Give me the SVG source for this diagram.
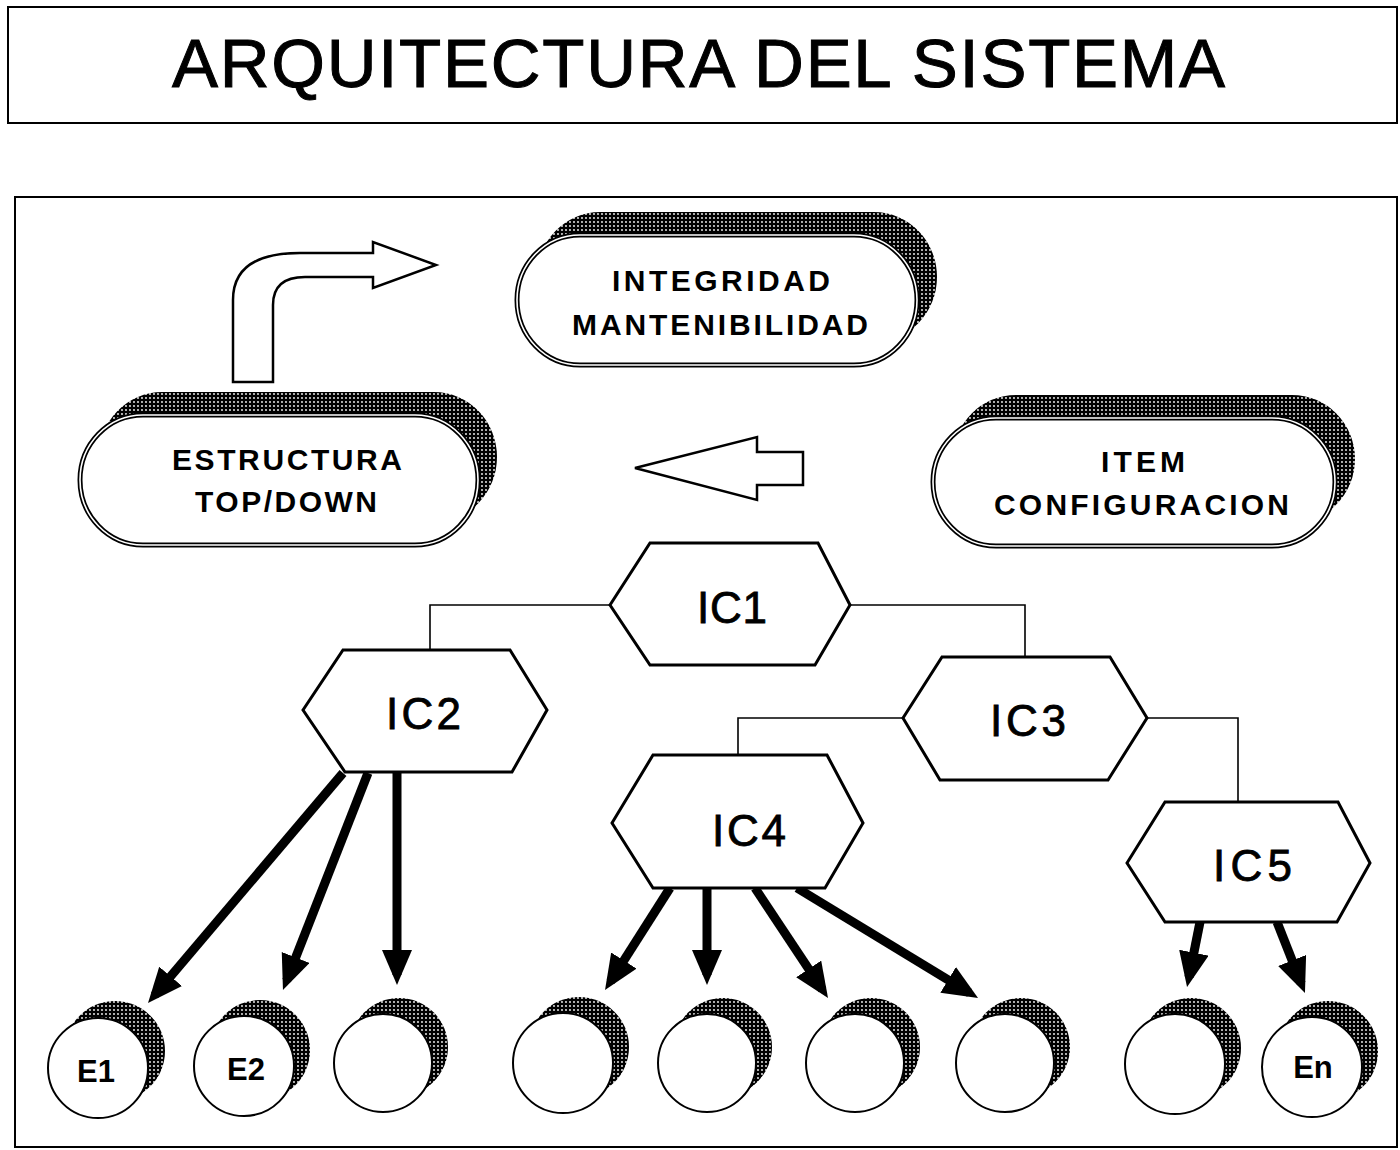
<svg xmlns="http://www.w3.org/2000/svg" width="1400" height="1150" viewBox="0 0 1400 1150">
<style>
.frame{fill:none;stroke:#000;stroke-width:2}
.pill{fill:#fff;stroke:#000;stroke-width:5}
.pillin{fill:none;stroke:#fff;stroke-width:1.6}
.shadow{fill:url(#dots)}
.hex{fill:#fff;stroke:#000;stroke-width:3;stroke-linejoin:miter}
.conn{fill:none;stroke:#000;stroke-width:1.6}
.arr{fill:none;stroke:#000;stroke-width:9;marker-end:url(#head)}
.circ{fill:#fff;stroke:#000;stroke-width:2}
.big{fill:#fff;stroke:#000;stroke-width:2.5;stroke-linejoin:miter}
.title{font-family:"Liberation Sans",Arial,sans-serif;font-size:69px;fill:#000;stroke:#000;stroke-width:1}
.pt{font-family:"Liberation Sans",Arial,sans-serif;font-size:30px;font-weight:bold;fill:#000}
.ic{font-family:"Liberation Sans",Arial,sans-serif;font-size:44px;fill:#000;stroke:#000;stroke-width:0.8}
.et{font-family:"Liberation Sans",Arial,sans-serif;font-size:31px;font-weight:bold;fill:#000;text-anchor:middle}
</style>
<defs>
<pattern id="dots" width="4" height="4" patternUnits="userSpaceOnUse">
<rect width="4" height="4" fill="#000"/>
<circle cx="2" cy="2" r="0.9" fill="#fff"/>
</pattern>
<marker id="head" markerUnits="userSpaceOnUse" markerWidth="36" markerHeight="32" refX="25" refY="15" orient="auto">
<path d="M0,0 L35,15 L0,30 Z" fill="#000"/>
</marker>
</defs>
<rect width="1400" height="1150" fill="#fff"/>

<g id="title">
<rect class="frame" x="8" y="7" width="1389" height="116"/>
<text class="title" x="172" y="87" textLength="1053" lengthAdjust="spacing">ARQUITECTURA DEL SISTEMA</text>
</g>

<g id="main-frame">
<rect class="frame" x="15" y="197" width="1382" height="950"/>
</g>

<g id="bent-arrow">
<path class="big" d="M233 382 L233 300 Q233 253 300 253 L373 253 L373 242 L436 265 L373 288 L373 277 L305 277 Q273 277 273 305 L273 382 Z"/>
</g>

<g id="left-arrow">
<path class="big" d="M635 468 L757 437 L757 452 L803 452 L803 485 L757 485 L757 500 Z"/>
</g>

<g id="integridad">
<rect class="shadow" x="537" y="212" width="400" height="130" rx="63" ry="65"/>
<rect class="pill" x="517" y="235" width="400" height="130" rx="63" ry="65"/>
<rect class="pillin" x="517" y="235" width="400" height="130" rx="63" ry="65"/>
<text class="pt" x="612" y="291" textLength="218" lengthAdjust="spacing">INTEGRIDAD</text>
<text class="pt" x="572" y="335" textLength="296" lengthAdjust="spacing">MANTENIBILIDAD</text>
</g>

<g id="estructura">
<rect class="shadow" x="99" y="392" width="398" height="130" rx="63" ry="65"/>
<rect class="pill" x="80" y="415" width="398" height="130" rx="63" ry="65"/>
<rect class="pillin" x="80" y="415" width="398" height="130" rx="63" ry="65"/>
<text class="pt" x="172" y="470" textLength="230" lengthAdjust="spacing">ESTRUCTURA</text>
<text class="pt" x="195" y="512" textLength="182" lengthAdjust="spacing">TOP/DOWN</text>
</g>

<g id="item">
<rect class="shadow" x="953" y="395" width="402" height="128" rx="63" ry="64"/>
<rect class="pill" x="933" y="418" width="402" height="128" rx="63" ry="64"/>
<rect class="pillin" x="933" y="418" width="402" height="128" rx="63" ry="64"/>
<text class="pt" x="1101" y="472" textLength="84" lengthAdjust="spacing">ITEM</text>
<text class="pt" x="994" y="515" textLength="295" lengthAdjust="spacing">CONFIGURACION</text>
</g>

<g id="connectors">
<polyline class="conn" points="610,605 430,605 430,650"/>
<polyline class="conn" points="850,605 1025,605 1025,657"/>
<polyline class="conn" points="903,718 738,718 738,755"/>
<polyline class="conn" points="1147,718 1238,718 1238,802"/>
<line class="arr" x1="343" y1="773" x2="154.5" y2="995.4"/>
<line class="arr" x1="368" y1="773" x2="286.6" y2="980.7"/>
<line class="arr" x1="397" y1="773" x2="397" y2="975"/>
<line class="arr" x1="670" y1="888" x2="610.4" y2="981.6"/>
<line class="arr" x1="707" y1="888" x2="707" y2="975"/>
<line class="arr" x1="755" y1="888" x2="822.5" y2="989.7"/>
<line class="arr" x1="797" y1="888" x2="969.5" y2="992.8"/>
<line class="arr" x1="1200" y1="922" x2="1189" y2="977.2"/>
<line class="arr" x1="1277" y1="922" x2="1301.3" y2="983.7"/>
</g>

<g id="IC1">
<polygon class="hex" points="610,605 650,543 818,543 850,605 815,665 650,665"/>
<text class="ic" x="697" y="623" textLength="70" lengthAdjust="spacing">IC1</text>
</g>
<g id="IC2">
<polygon class="hex" points="303,710 343,650 510,650 547,710 512,772 345,772"/>
<text class="ic" x="386" y="729" textLength="75" lengthAdjust="spacing">IC2</text>
</g>
<g id="IC3">
<polygon class="hex" points="903,718 942,657 1110,657 1147,718 1108,780 940,780"/>
<text class="ic" x="990" y="736" textLength="76" lengthAdjust="spacing">IC3</text>
</g>
<g id="IC4">
<polygon class="hex" points="612,823 653,755 827,755 863,823 825,888 653,888"/>
<text class="ic" x="712" y="846" textLength="74" lengthAdjust="spacing">IC4</text>
</g>
<g id="IC5">
<polygon class="hex" points="1127,863 1165,802 1338,802 1370,863 1337,922 1165,922"/>
<text class="ic" x="1213" y="881" textLength="79" lengthAdjust="spacing">IC5</text>
</g>

<g id="E1">
<circle class="shadow" cx="115" cy="1051" r="50"/>
<circle class="circ" cx="98" cy="1068" r="50"/>
<text class="et" x="96" y="1082">E1</text>
</g>
<g id="E2">
<circle class="shadow" cx="260" cy="1050" r="50"/>
<circle class="circ" cx="244" cy="1066" r="50"/>
<text class="et" x="246" y="1080">E2</text>
</g>
<g id="E3">
<circle class="shadow" cx="399" cy="1047" r="49"/>
<circle class="circ" cx="383" cy="1063" r="49"/>
</g>
<g id="E4">
<circle class="shadow" cx="579" cy="1047" r="50"/>
<circle class="circ" cx="563" cy="1063" r="50"/>
</g>
<g id="E5">
<circle class="shadow" cx="723" cy="1047" r="49"/>
<circle class="circ" cx="707" cy="1063" r="49"/>
</g>
<g id="E6">
<circle class="shadow" cx="871" cy="1047" r="49"/>
<circle class="circ" cx="855" cy="1063" r="49"/>
</g>
<g id="E7">
<circle class="shadow" cx="1021" cy="1047" r="49"/>
<circle class="circ" cx="1005" cy="1063" r="49"/>
</g>
<g id="E8">
<circle class="shadow" cx="1191" cy="1048" r="50"/>
<circle class="circ" cx="1175" cy="1064" r="50"/>
</g>
<g id="En">
<circle class="shadow" cx="1328" cy="1051" r="50"/>
<circle class="circ" cx="1312" cy="1067" r="50"/>
<text class="et" x="1313" y="1078">En</text>
</g>
</svg>
